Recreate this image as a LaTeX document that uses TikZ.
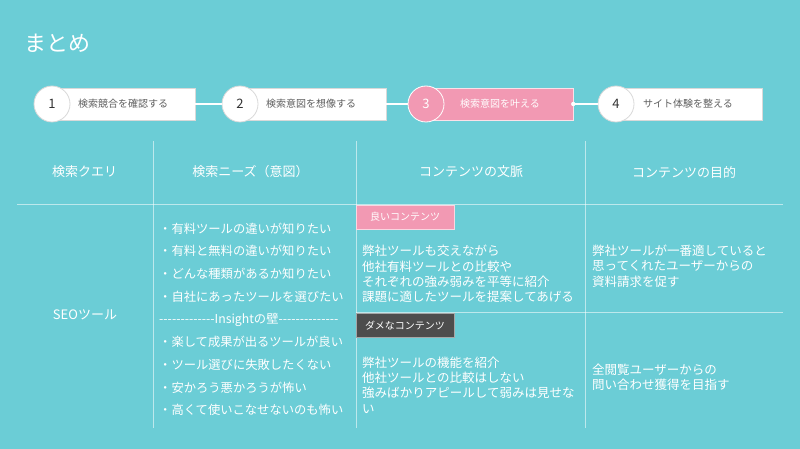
\documentclass[tikz,border=0pt]{standalone}
\usepackage{fontspec}
\setmainfont{Noto Sans CJK JP}[Ligatures=TeXOff]
\definecolor{bg}{RGB}{107,205,214}
\definecolor{pinkc}{RGB}{242,153,179}
\definecolor{darklab}{RGB}{77,77,77}
\definecolor{steptext}{RGB}{95,95,95}
\begin{document}
\begin{tikzpicture}[x=1pt,y=-1pt,
  stepbox/.style={draw=gray!30, fill=white, minimum height=32pt, inner sep=0pt, line width=0.6pt},
  stepcirc/.style={circle, draw=gray!30, fill=white, minimum size=36pt, inner sep=0pt, line width=0.8pt, font=\fontsize{13}{13}\selectfont, text=black!80},
  steplabel/.style={anchor=west, inner sep=0pt, font=\fontsize{10}{12}\selectfont, text=steptext},
  link/.style={draw=white, line width=1.6pt},
  gridline/.style={draw=white, draw opacity=0.55, line width=0.8pt},
  head/.style={text=white, font=\fontsize{13}{15}\selectfont, inner sep=0pt},
  body/.style={text=white, anchor=west, align=left, inner sep=0pt, font=\fontsize{12.5}{15.3}\selectfont},
  tag/.style={minimum width=98pt, minimum height=24pt, inner sep=0pt, text=white, font=\fontsize{10}{12}\selectfont, line width=0.5pt}
]
\fill[bg] (0,0) rectangle (800,449);
\useasboundingbox (0,0) rectangle (800,449);

% title
\node[anchor=west, inner sep=0pt, text=white, font=\fontsize{22}{24}\selectfont] (title) at (24,43) {まとめ};

% steps
\node[stepbox, minimum width=137pt] (b1) at (126.5,104) {};
\node[stepbox, minimum width=141pt] (b2) at (315.5,104) {};
\node[stepbox, minimum width=142pt, fill=pinkc, draw=white!70!pinkc] (b3) at (502,104) {};
\node[stepbox, minimum width=142pt] (b4) at (691,104) {};

\node[stepcirc] (c1) at (52,104) {1};
\node[stepcirc] (c2) at (240,104) {2};
\node[stepcirc, fill=pinkc, draw=white, text=white] (c3) at (426,104) {3};
\node[stepcirc] (c4) at (616,104) {4};

\node[steplabel] (t1) at (78,104) {検索競合を確認する};
\node[steplabel] (t2) at (266,104) {検索意図を想像する};
\node[steplabel, text=white] (t3) at (460,104) {検索意図を叶える};
\node[steplabel] (t4) at (643,104) {サイト体験を整える};

\draw[link] (b1.east) -- (c2.west);
\draw[link] (b2.east) -- (c3.west);
\draw[link] (b3.east) -- (c4.west);
\fill[white] (b3.east) circle (2.2pt);

% table lines
\draw[gridline] (17,204) -- (783,204);
\draw[gridline] (356,312) -- (783,312);
\draw[gridline] (153,141) -- (153,428);
\draw[gridline] (356,141) -- (356,428);
\draw[gridline] (585,141) -- (585,428);

% headers
\node[head] (h1) at (84.5,172) {検索クエリ};
\node[head] (h2) at (250.5,172) {検索ニーズ（意図）};
\node[head] (h3) at (471,172) {コンテンツの文脈};
\node[head] (h4) at (684,172) {コンテンツの目的};

\node[head] (q) at (85,315) {SEOツール};

\node[body, font=\fontsize{12.3}{22.7}\selectfont] (needs) at (159,319.3) {・有料ツールの違いが知りたい\\
・有料と無料の違いが知りたい\\
・どんな種類があるか知りたい\\
・自社にあったツールを選びたい\\
-------------Insightの壁--------------\\
・楽して成果が出るツールが良い\\
・ツール選びに失敗したくない\\
・安かろう悪かろうが怖い\\
・高くて使いこなせないのも怖い};

% tags
\node[tag, fill=pinkc, draw=white!60!pinkc] (good) at (405,217) {良いコンテンツ};
\node[tag, fill=darklab, draw=gray!70] (bad) at (405,325.5) {ダメなコンテンツ};

\node[body] (goodtext) at (362,274) {弊社ツールも交えながら\\他社有料ツールとの比較や\\それぞれの強み弱みを平等に紹介\\課題に適したツールを提案してあげる};
\node[body] (badtext) at (362,385) {弊社ツールの機能を紹介\\他社ツールとの比較はしない\\強みばかりアピールして弱みは見せな\\い};
\node[body] (goal1) at (592,266) {弊社ツールが一番適していると\\思ってくれたユーザーからの\\資料請求を促す};
\node[body] (goal2) at (592,377.5) {全閲覧ユーザーからの\\問い合わせ獲得を目指す};
\end{tikzpicture}
\end{document}
